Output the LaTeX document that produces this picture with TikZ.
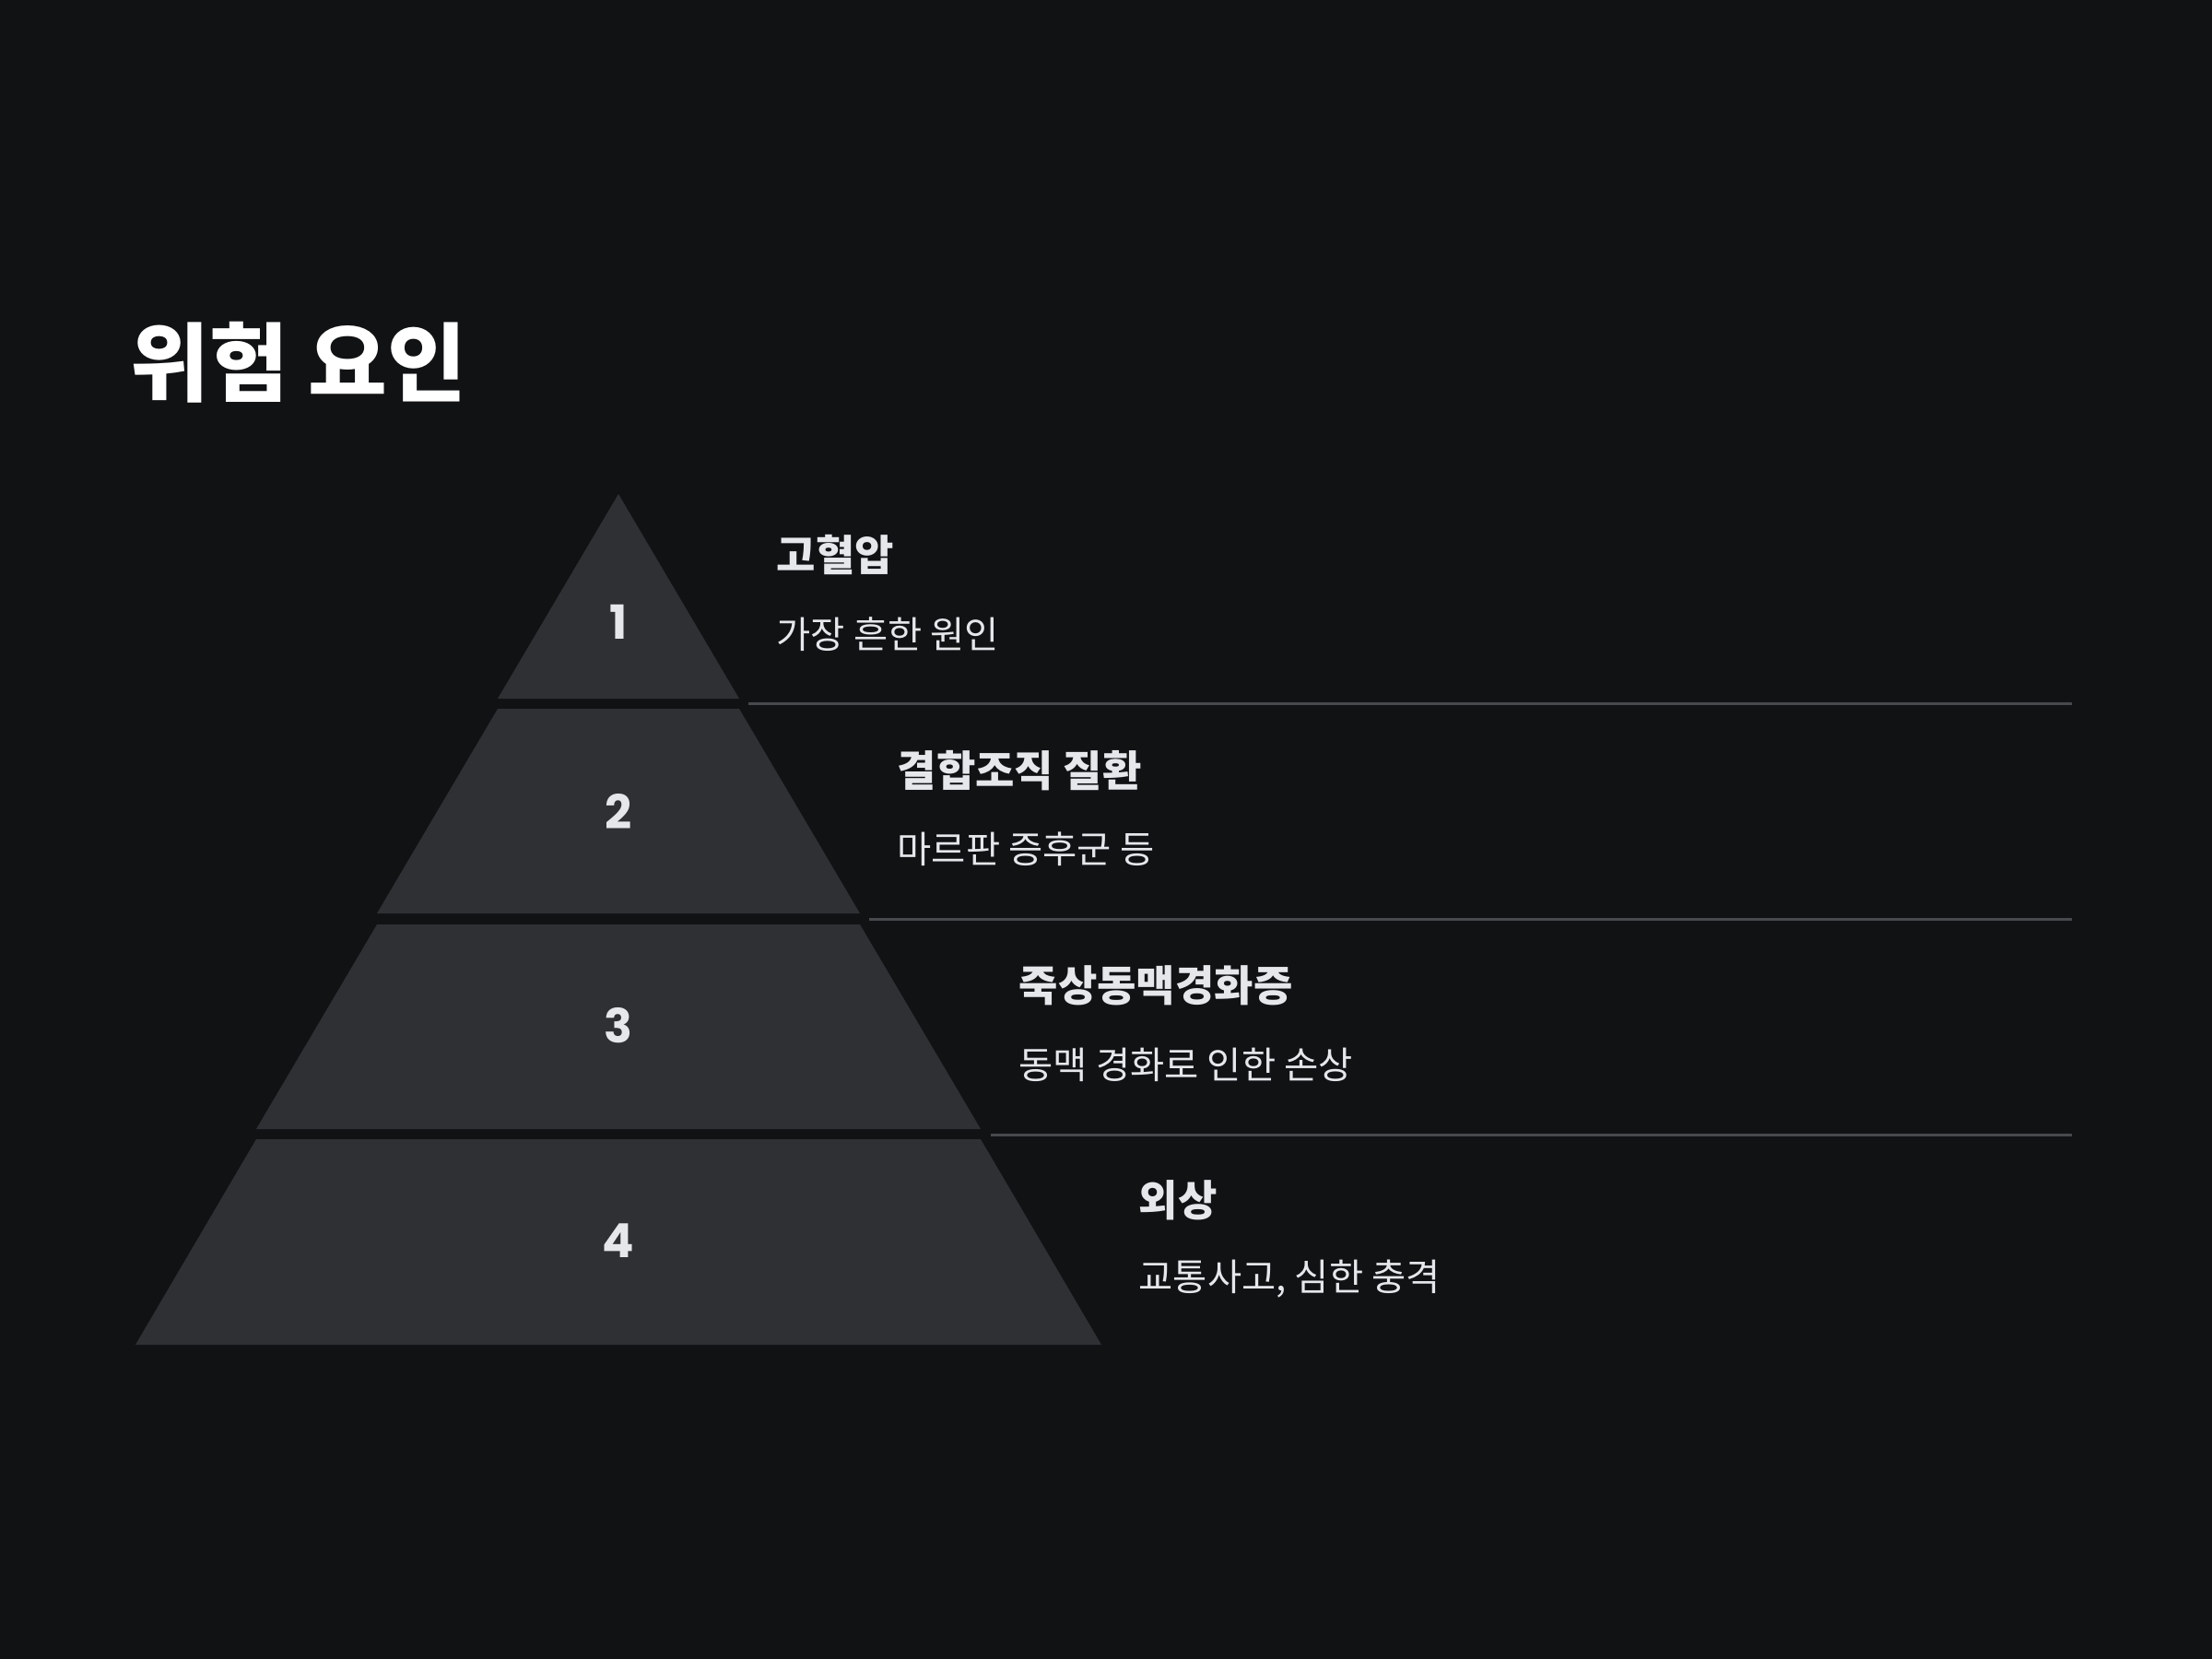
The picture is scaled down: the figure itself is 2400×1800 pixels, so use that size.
\documentclass[tikz,border=0pt]{standalone}
\usepackage{fontspec}
\newfontfamily\kr{Noto Sans CJK KR}
\newfontfamily\numfont{Poppins}
\definecolor{bg}{RGB}{17,18,20}
\definecolor{tierfill}{RGB}{47,48,51}
\definecolor{sepline}{RGB}{72,73,77}
\definecolor{txt}{RGB}{229,231,235}
\begin{document}
\begin{tikzpicture}[x=0.01cm,y=-0.01cm,
  tier/.style={fill=tierfill},
  numlabel/.style={inner sep=0pt,text=txt,font=\numfont\bfseries\fontsize{14.5pt}{16pt}\selectfont},
  heading/.style={inner sep=0pt,anchor=west,text=txt,font=\kr\bfseries\fontsize{13.1pt}{15pt}\selectfont},
  subtext/.style={inner sep=0pt,anchor=west,text=txt,font=\kr\fontsize{11.5pt}{13pt}\selectfont},
  sepstyle/.style={draw=sepline,line width=0.85pt}]
\fill[bg] (0,0) rectangle (2400,1800);
\useasboundingbox (0,0) rectangle (2400,1800);

\node[inner sep=0pt,anchor=west,text=white,font=\kr\bfseries\fontsize{26.5pt}{30pt}\selectfont] (title) at (141,393) {위험 요인};

% tiers
\fill[tier] (671,536) -- (802,758) -- (540,758) -- cycle;
\fill[tier] (540,769) -- (802,769) -- (933,991) -- (409,991) -- cycle;
\fill[tier] (409,1003) -- (933,1003) -- (1064,1225) -- (278,1225) -- cycle;
\fill[tier] (278,1236) -- (1064,1236) -- (1195,1459) -- (147,1459) -- cycle;

\node[numlabel] (n1) at (671,675) {1};
\node[numlabel] (n2) at (671,880) {2};
\node[numlabel] (n3) at (671,1113) {3};
\node[numlabel] (n4) at (671,1346) {4};

% separators
\coordinate (l1a) at (812,763); \coordinate (l1b) at (2248,763);
\coordinate (l2a) at (943,997); \coordinate (l2b) at (2248,997);
\coordinate (l3a) at (1075,1231); \coordinate (l3b) at (2248,1231);
\draw[sepstyle] (l1a) -- (l1b);
\draw[sepstyle] (l2a) -- (l2b);
\draw[sepstyle] (l3a) -- (l3b);

% texts
\node[heading] (h1) at (842,602) {고혈압};
\node[subtext] (s1) at (842,688) {가장 흔한 원인};
\node[heading] (h2) at (973,836) {결합조직 질환};
\node[subtext] (s2) at (973,921) {마르판 증후군 등};
\node[heading] (h3) at (1105,1069) {죽상동맥경화증};
\node[subtext] (s3) at (1105,1155) {동맥 경화로 인한 손상};
\node[heading] (h4) at (1235,1302) {외상};
\node[subtext] (s4) at (1235,1388) {교통사고, 심한 충격};
\end{tikzpicture}
\end{document}
